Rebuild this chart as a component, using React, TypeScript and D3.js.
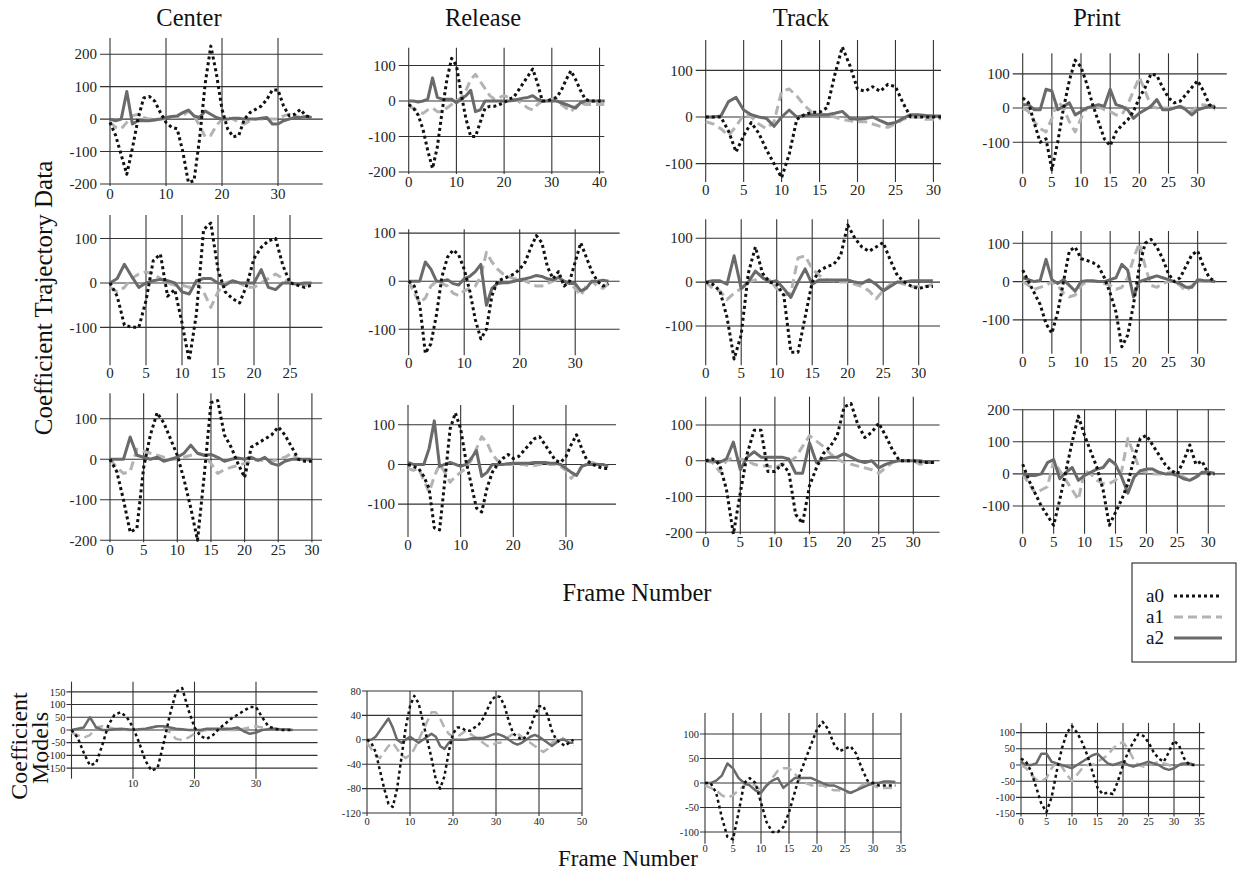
import { useEffect, useRef } from "react"
import * as d3 from "d3"

// ---- column titles / series ----
const columnTitles = ["Center", "Release", "Track", "Print"]
const seriesNames = ["a0", "a1", "a2"]

// ---- Coefficient trajectory data, row 1 ----
const centerT1A0 = [-10, -50, -110, -170, -90, 0, 65, 70, 55, 20, -10, -25, -30, -100, -195, -190, -60, 110, 225, 140, 30, -30, -55, -50, 0, 20, 30, 40, 60, 90, 90, 40, 10, 15, 30, 10, 5]
const centerT1A1 = [-10, -25, -30, -10, 10, 15, 5, 0, 0, 0, 0, 5, 5, 10, 25, 10, -20, -55, -50, -20, 0, 5, 0, -10, -15, -5, 0, 0, 0, 0, 0, 10, 15, 10, 5, 5, 5]
const centerT1A2 = [0, -5, 0, 85, -15, -5, -5, -5, -3, 0, 5, 8, 10, 20, 28, 10, 5, 25, 15, 5, 0, 0, 3, 3, 0, 0, 0, 3, 5, -15, -15, -5, 0, 5, 5, 8, 5]

const releaseT1A0 = [-10, -20, -40, -80, -140, -190, -130, -30, 60, 120, 100, 20, -50, -100, -100, -60, -20, -15, -15, -10, -5, 5, 10, 30, 50, 70, 90, 50, 0, 0, 5, 10, 30, 60, 85, 60, 30, 5, 0, 0, 0, 0]
const releaseT1A1 = [-15, -20, -30, -35, -25, -20, -30, -30, -20, -10, 0, 10, 30, 60, 75, 55, 35, 15, 5, 10, 15, 10, 5, 0, -10, -20, -25, -10, 0, 0, 5, 0, -10, -20, -30, -15, -5, -10, -10, -10, -10, -10]
const releaseT1A2 = [0, 0, -3, 0, 5, 65, 10, 5, 5, 5, -5, 5, 15, 30, -30, -25, 0, 0, 0, 0, 0, 0, 2, 5, 8, 10, 15, 5, 0, 0, 0, 0, -5, -10, -15, -20, -5, 0, 0, 0, 0, 0]

const trackT1A0 = [0, 0, 0, -30, -75, -40, -12, -35, -70, -100, -130, -80, -5, 5, 10, 10, 20, 90, 150, 110, 60, 55, 65, 55, 70, 65, 30, 0, 0, 0, 0, 0]
const trackT1A1 = [-10, -15, -25, -40, -20, 5, 0, -15, -25, -10, 55, 60, 45, 25, 10, 5, 5, 0, -5, -8, -10, -10, -15, -20, -22, -15, -5, 0, 0, -5, -5, -3]
const trackT1A2 = [0, 0, 2, 33, 42, 15, 5, 0, -3, -20, 0, 15, 0, 3, 5, 5, 5, 8, 12, -3, -5, -3, 0, -8, -15, -12, -3, 5, 5, 3, 2, 2]

const printT1A0 = [30, 15, -45, -100, -90, -180, -100, 0, 80, 140, 120, 70, 10, -40, -90, -110, -70, -50, -35, -10, 30, 60, 100, 95, 60, 30, 15, 20, 40, 60, 80, 50, 10, 0]
const printT1A1 = [0, -10, -40, -60, -70, -30, 20, 0, -40, -70, -30, 0, 5, 5, -5, -10, -20, -20, 10, 50, 90, 50, 5, 0, 0, 0, 0, 5, 0, -10, 5, 10, 5, -5]
const printT1A2 = [10, 10, -5, -5, 55, 50, -5, 5, 15, -20, -10, 0, 5, 10, 5, 55, 10, 5, -5, -30, -15, -5, 5, 25, -5, -5, 0, 5, -5, -20, -5, 0, 5, 5]

// ---- row 2 ----
const centerT2A0 = [0, -30, -95, -100, -100, -40, 50, 65, -30, -15, -90, -175, -70, 120, 135, 30, -20, -35, -45, -5, 55, 80, 95, 100, 40, 0, -5, -10, -5]
const centerT2A1 = [-10, -20, -10, 10, 20, 25, 20, 10, 0, -5, -5, -10, 0, -20, -55, -20, 0, 5, 0, -10, -10, 0, 10, 20, 10, 0, 0, -5, -5]
const centerT2A2 = [0, 10, 42, 15, -10, 0, 5, 8, 5, 0, -20, -25, 5, 10, 10, 0, -5, 5, 0, 0, 0, 30, -10, -15, 0, 0, -3, 0, 0]

const releaseT2A0 = [0, -10, -50, -150, -130, -70, 10, 50, 65, 55, 25, -20, -80, -120, -100, -30, 0, 5, 10, 15, 25, 40, 70, 95, 80, 30, 5, 20, -10, 0, 40, 80, 50, 20, 0, -10, -5]
const releaseT2A1 = [0, -25, -45, -35, -10, 0, -5, -10, -25, -30, -20, -15, -10, 10, 60, 40, 25, 15, 10, 5, 5, 0, -5, -10, -10, -5, 0, 5, 0, -5, -15, -30, -10, 0, -10, -15, -5]
const releaseT2A2 = [0, 0, 0, 40, 25, 0, 0, 3, -5, -8, 5, 10, 20, 35, -50, -15, -5, -3, -3, 0, 3, 5, 8, 12, 10, 5, 3, 8, 0, -5, -5, -20, -15, 0, 0, 2, 0]

const trackT2A0 = [0, -5, -20, -80, -175, -120, 20, 80, 20, 0, -5, -30, -160, -160, -80, 0, 25, 35, 40, 60, 130, 100, 80, 70, 80, 90, 50, 15, 0, -10, -15, -10, -10]
const trackT2A1 = [0, -15, -20, -40, -25, -15, 0, 5, 10, 5, -15, -30, -25, 55, 60, 30, 15, 5, 3, 0, 0, -5, -10, -20, -38, -20, -5, 0, -5, -10, -10, -10, -5]
const trackT2A2 = [0, 3, 3, -5, 60, -15, 0, 25, 10, 0, 3, -15, -35, 0, 30, -5, 5, 5, 5, 5, 5, 0, -3, 5, -5, -20, -10, 0, 0, 3, 3, 3, 3]

const printT2A0 = [30, 0, -30, -60, -110, -135, -80, 0, 80, 90, 60, 55, 50, 40, 10, -30, -80, -170, -140, -60, 40, 100, 110, 90, 60, 20, 0, 10, 40, 70, 80, 40, 10, 0]
const printT2A1 = [0, -10, -20, -15, -10, 0, -10, -30, -40, -35, -10, 0, 0, 0, -5, -10, -20, -15, 10, 60, 100, 40, -10, -15, -5, 0, 0, -10, -25, -10, 0, 0, 0, 0]
const printT2A2 = [10, 5, 0, 3, 58, 5, -5, 5, -10, -25, 0, 2, 2, 0, 0, 5, 10, 45, 30, -40, 0, 5, 10, 15, 10, 5, 0, -5, -15, -15, 5, 3, 2, 0]

// ---- row 3 ----
const centerT3A0 = [0, -30, -100, -180, -170, -20, 60, 115, 90, 50, 10, -50, -120, -200, -40, 140, 145, 60, 30, -10, -45, 30, 40, 50, 60, 80, 60, 30, 0, -5, -5]
const centerT3A1 = [0, -20, -35, -30, 25, 20, 15, 10, 5, 0, 0, 5, 10, 15, 10, -10, -35, -25, -20, -15, -10, -5, 0, -5, -5, 0, 5, 15, 0, 0, -5]
const centerT3A2 = [0, 0, 0, 55, 10, 5, 0, 5, -5, 0, 5, 15, 35, 15, 10, 12, 5, -5, 0, 3, 0, 5, -3, 5, -10, -15, -5, 0, 0, 0, 0]

const releaseT3A0 = [0, -5, -10, -30, -60, -160, -165, -40, 90, 130, 90, 10, -50, -110, -120, -60, -20, 0, 15, 25, 15, 20, 35, 50, 65, 70, 50, 30, 10, 5, 20, 50, 75, 40, 10, 0, -5, -10, -10]
const releaseT3A1 = [-10, -15, -10, -40, -70, -30, 0, -20, -45, -30, -20, -10, 10, 40, 70, 55, 25, 10, 5, 0, 0, 0, 0, -3, -3, 0, 3, 0, 0, -5, -15, -35, -20, -5, 0, 5, 0, -5, -5]
const releaseT3A2 = [5, 0, 0, 0, 40, 110, -5, 0, 5, 0, -5, 0, 15, 35, -30, -20, 0, 0, 0, 2, 3, 3, 3, 3, 5, 5, 5, 3, 3, 0, -10, -20, -28, -5, 0, 0, 0, 0, -5]

const trackT3A0 = [0, 5, -10, -80, -205, -90, 20, 85, 85, -30, -30, -10, -30, -150, -175, -70, -20, 20, 40, 70, 150, 160, 100, 65, 80, 105, 70, 30, 0, 0, 0, -3, -5, -5]
const trackT3A1 = [0, -5, -30, 0, 10, 5, 0, -10, -15, -15, -20, -10, -5, 10, 40, 70, 55, 40, 20, 5, -5, -10, -15, -20, -25, -35, -20, -5, 0, 0, 0, -10, -5, -5]
const trackT3A2 = [0, 0, -5, 5, 52, -25, 10, 25, 10, 10, 10, 10, 5, -35, -35, 50, -5, 5, 10, 10, 20, 10, 0, -5, 0, -20, -10, -3, 0, 0, 0, 0, -5, -3]

const printT3A0 = [30, -20, -60, -100, -130, -160, -80, 10, 100, 180, 120, 70, 20, -50, -160, -120, -80, -30, 50, 110, 120, 90, 60, 30, 10, 0, 40, 90, 30, 40, 0, 0]
const printT3A1 = [0, -30, -60, -50, -40, 40, 10, -20, -50, -80, 10, 0, -20, -30, -30, -20, 10, 110, 60, 10, 5, 0, 0, 0, 5, 5, -10, -20, -10, 0, 5, 0]
const printT3A2 = [0, -5, -5, 0, 35, 45, -15, 5, 20, -20, -5, 5, 15, 20, 45, 30, -10, -60, -10, 10, 15, 15, 5, 0, 0, -5, -15, -20, -10, 5, 5, 2]

// ---- Coefficient models ----
const centerMA0 = [0, -30, -90, -140, -130, -60, 20, 60, 70, 50, 10, -50, -120, -160, -150, -50, 60, 150, 165, 80, 10, -25, -35, -20, 5, 25, 45, 60, 75, 90, 90, 50, 15, 5, 0, 0, 0]
const centerMA1 = [-10, -20, -30, -20, 10, 15, 10, 5, 3, 0, 0, 0, 3, 10, 15, 10, -10, -35, -40, -30, -15, -5, 0, 0, 0, 0, 0, 0, 5, 10, 15, 10, 5, 5, 3, 2, 0]
const centerMA2 = [0, 5, 10, 50, 10, 0, 0, 3, 5, 3, 0, 3, 5, 10, 15, 15, 10, 5, 3, 0, 0, 0, 5, 5, 5, 5, 5, 10, -5, -15, -10, 0, 3, 5, 3, 2, 0]

const releaseMA0 = [0, -5, -20, -50, -80, -105, -110, -80, -30, 20, 55, 72, 60, 30, 0, -30, -65, -80, -60, -20, 10, 20, 20, 15, 15, 20, 25, 35, 50, 65, 72, 70, 55, 30, 10, 5, 0, 5, 20, 40, 55, 55, 40, 15, 0, -5, -10, -5, 0]
const releaseMA1 = [-5, -15, -25, -30, -20, -10, -5, -15, -25, -30, -25, -15, 0, 15, 30, 45, 45, 35, 20, 10, 5, 5, 10, 15, 10, 5, 0, -5, -10, -10, -5, -5, 0, 5, 10, 10, 5, 0, -5, -10, -15, -20, -15, -5, 0, 5, 0, -5, -10]
const releaseMA2 = [0, 0, 5, 15, 25, 35, 20, 0, -5, 0, 5, 0, -5, 0, 5, 10, 5, -10, -15, -5, 0, 0, 0, 0, 2, 3, 3, 3, 5, 8, 10, 8, 5, 0, -5, -8, -5, 0, 5, 8, 5, 0, -5, -10, -5, 0, 0, -5, -5]

const trackMA0 = [0, 0, -20, -70, -110, -115, -60, 0, 10, 0, -40, -80, -100, -100, -90, -60, -20, 20, 50, 80, 110, 125, 110, 80, 65, 70, 75, 60, 30, 5, 0, -5, -5, -5, -5]
const trackMA1 = [-5, -10, -15, -25, -30, -25, -15, -5, 0, -5, -15, -5, 10, 25, 30, 30, 20, 5, 0, -5, -5, -5, -10, -15, -15, -20, -20, -15, -5, 0, -5, -10, -10, -10, -10]
const trackMA2 = [0, 0, 5, 15, 40, 30, 10, 0, -5, -15, -20, -5, 5, 10, -10, 0, 10, 10, 10, 10, 5, 0, -5, -5, -10, -15, -20, -15, -10, -5, 0, 0, 3, 3, 2]

const printMA0 = [20, 10, -20, -70, -120, -145, -100, -20, 50, 100, 120, 100, 70, 30, -20, -70, -90, -85, -90, -50, 0, 40, 70, 95, 90, 70, 40, 20, 10, 40, 75, 60, 20, 0, 0]
const printMA1 = [0, -10, -30, -45, -50, -40, -10, 10, -5, -30, -50, -30, -10, 0, 0, 10, 20, 30, 50, 65, 70, 50, 20, 0, -5, 0, 5, 10, 5, 0, -10, 0, 10, 5, 0]
const printMA2 = [10, 0, 0, 5, 35, 35, 10, 5, 0, -5, -10, 0, 10, 20, 30, 35, 20, 5, 0, 5, 10, 0, -5, 0, 5, 10, 5, 0, -10, -15, -10, 0, 5, 5, 0]

// series styles
const seriesStyle = [
  { color: "#111", width: 3, dash: "3 3" },
  { color: "#b3b3b3", width: 3, dash: "9 5" },
  { color: "#6a6a6a", width: 3, dash: null },
]

// panel layout: pixel box + domains (small = bottom "models" row)
const panels = [
  { data: [centerT1A0, centerT1A1, centerT1A2], left: 110, right: 322.8, top: 38, bottom: 184, xMax: 38, y: [-200, 250], xTicks: d3.range(0, 31, 10), yTicks: d3.range(-200, 201, 100), small: false },
  { data: [releaseT1A0, releaseT1A1, releaseT1A2], left: 408.7, right: 604.3, top: 47.7, bottom: 172, xMax: 41, y: [-200, 150], xTicks: d3.range(0, 41, 10), yTicks: d3.range(-200, 101, 100), small: false },
  { data: [trackT1A0, trackT1A1, trackT1A2], left: 705.7, right: 941, top: 40, bottom: 180, xMax: 31, y: [-135, 165], xTicks: d3.range(0, 31, 5), yTicks: [-100, 0, 100], small: false },
  { data: [printT1A0, printT1A1, printT1A2], left: 1022.7, right: 1226.8, top: 53.3, bottom: 171.7, xMax: 35, y: [-186, 160], xTicks: d3.range(0, 31, 5), yTicks: [-100, 0, 100], small: false },

  { data: [centerT2A0, centerT2A1, centerT2A2], left: 110, right: 322.4, top: 215, bottom: 363.3, xMax: 29.5, y: [-181, 153], xTicks: d3.range(0, 26, 5), yTicks: [-100, 0, 100], small: false },
  { data: [releaseT2A0, releaseT2A1, releaseT2A2], left: 408.7, right: 619.6, top: 229.3, bottom: 353.3, xMax: 38, y: [-150, 108], xTicks: d3.range(0, 31, 10), yTicks: [-100, 0, 100], small: false },
  { data: [trackT2A0, trackT2A1, trackT2A2], left: 705.7, right: 940, top: 219.3, bottom: 363.3, xMax: 33, y: [-185, 143], xTicks: d3.range(0, 31, 5), yTicks: [-100, 0, 100], small: false },
  { data: [printT2A0, printT2A1, printT2A2], left: 1022.7, right: 1226.8, top: 231, bottom: 351.7, xMax: 35, y: [-183, 132], xTicks: d3.range(0, 31, 5), yTicks: [-100, 0, 100], small: false },

  { data: [centerT3A0, centerT3A1, centerT3A2], left: 110, right: 322, top: 393.3, bottom: 540.3, xMax: 31.5, y: [-200, 163], xTicks: d3.range(0, 31, 5), yTicks: [-200, -100, 0, 100], small: false },
  { data: [releaseT3A0, releaseT3A1, releaseT3A2], left: 408, right: 616, top: 405, bottom: 535, xMax: 39.5, y: [-178, 150], xTicks: d3.range(0, 31, 10), yTicks: [-100, 0, 100], small: false },
  { data: [trackT3A0, trackT3A1, trackT3A2], left: 705.7, right: 939.6, top: 396.7, bottom: 532.3, xMax: 33.8, y: [-200, 179], xTicks: d3.range(0, 31, 5), yTicks: [-200, -100, 0, 100], small: false },
  { data: [printT3A0, printT3A1, printT3A2], left: 1022.7, right: 1225, top: 409.7, bottom: 531.7, xMax: 32.7, y: [-180, 200], xTicks: d3.range(0, 31, 5), yTicks: [-100, 0, 100, 200], small: false },

  { data: [centerMA0, centerMA1, centerMA2], left: 71.5, right: 317.5, top: 681.7, bottom: 775.7, xMax: 40, y: [-180, 190], xTicks: [10, 20, 30], yTicks: d3.range(-150, 151, 50), small: true },
  { data: [releaseMA0, releaseMA1, releaseMA2], left: 367, right: 582, top: 691, bottom: 813, xMax: 50, y: [-120, 80], xTicks: d3.range(0, 51, 10), yTicks: d3.range(-120, 81, 40), small: true },
  { data: [trackMA0, trackMA1, trackMA2], left: 705, right: 901, top: 713, bottom: 840.8, xMax: 35, y: [-118, 143], xTicks: d3.range(0, 36, 5), yTicks: d3.range(-100, 101, 50), small: true },
  { data: [printMA0, printMA1, printMA2], left: 1021, right: 1204.6, top: 722.9, bottom: 813.6, xMax: 36, y: [-150, 130], xTicks: d3.range(0, 36, 5), yTicks: d3.range(-150, 101, 50), small: true },
]

const titleX = [189, 483, 801, 1097]

export default function App() {
  const svgRef = useRef(null)

  useEffect(() => {
    if (!svgRef.current) return
    const svg = d3.select(svgRef.current)
    svg.selectAll("*").remove()
    const font = "'Liberation Serif', 'Times New Roman', serif"

    // column titles
    columnTitles.forEach((t, i) => {
      svg.append("text").attr("x", titleX[i]).attr("y", 26).attr("text-anchor", "middle")
        .attr("font-family", font).attr("font-size", 24.5).attr("fill", "#111").text(t)
    })

    panels.forEach((p) => {
      const x = d3.scaleLinear().domain([0, p.xMax]).range([p.left, p.right])
      const y = d3.scaleLinear().domain(p.y).range([p.bottom, p.top])
      const g = svg.append("g")
      const tickLen = p.small ? 5 : 10
      const fs = p.small ? 10.5 : 15

      // horizontal grid
      g.selectAll(".hg").data(p.yTicks).enter().append("line")
        .attr("x1", p.left - tickLen).attr("x2", p.right)
        .attr("y1", (d) => y(d)).attr("y2", (d) => y(d))
        .attr("stroke", "#333").attr("stroke-width", 1.1)

      // vertical grid
      const vTicks = p.small && p.xTicks[0] !== 0 ? [0, ...p.xTicks] : p.xTicks
      g.selectAll(".vg").data(vTicks).enter().append("line")
        .attr("x1", (d) => x(d)).attr("x2", (d) => x(d))
        .attr("y1", p.top).attr("y2", p.bottom + (p.small ? 3 : 2))
        .attr("stroke", "#333").attr("stroke-width", 1.1)

      // tick labels
      g.selectAll(".yl").data(p.yTicks).enter().append("text")
        .attr("x", p.left - (p.small ? 6 : 13)).attr("y", (d) => y(d)).attr("dy", "0.35em")
        .attr("text-anchor", "end").attr("font-family", font).attr("font-size", fs).attr("fill", "#222")
        .text((d) => d)
      g.selectAll(".xl").data(p.xTicks).enter().append("text")
        .attr("x", (d) => x(d)).attr("y", p.bottom + (p.small ? 11.5 : 15))
        .attr("text-anchor", "middle").attr("font-family", font).attr("font-size", fs).attr("fill", "#222")
        .text((d) => d)

      // series: a1, a2 below, a0 dotted on top
      ;[1, 2, 0].forEach((si) => {
        const st = seriesStyle[si]
        const line = d3.line<number>().x((_, i) => x(i)).y((d) => y(d))
        g.append("path").datum(p.data[si]).attr("d", line)
          .attr("fill", "none").attr("stroke", st.color)
          .attr("stroke-width", p.small ? st.width - 0.5 : st.width)
          .attr("stroke-dasharray", st.dash)
          .attr("stroke-linejoin", "round")
      })
    })

    // axis titles
    svg.append("text").attr("transform", "translate(52,298) rotate(-90)").attr("text-anchor", "middle")
      .attr("font-family", font).attr("font-size", 25).attr("fill", "#111").text("Coefficient Trajectory Data")
    svg.append("text").attr("transform", "translate(27,746) rotate(-90)").attr("text-anchor", "middle")
      .attr("font-family", font).attr("font-size", 24).attr("fill", "#111").text("Coefficient")
    svg.append("text").attr("transform", "translate(48,748) rotate(-90)").attr("text-anchor", "middle")
      .attr("font-family", font).attr("font-size", 24).attr("fill", "#111").text("Models")
    svg.append("text").attr("x", 637).attr("y", 601).attr("text-anchor", "middle")
      .attr("font-family", font).attr("font-size", 24.5).attr("fill", "#111").text("Frame Number")
    svg.append("text").attr("x", 628).attr("y", 866).attr("text-anchor", "middle")
      .attr("font-family", font).attr("font-size", 23).attr("fill", "#111").text("Frame Number")

    // legend
    const legend = svg.append("g").attr("transform", "translate(1132,563)")
    legend.append("rect").attr("width", 104).attr("height", 99).attr("fill", "#fff").attr("stroke", "#111")
    seriesNames.forEach((n, i) => {
      const ly = 33 + i * 21
      legend.append("text").attr("x", 14).attr("y", ly + 6).attr("font-family", font)
        .attr("font-size", 19).attr("fill", "#111").text(n)
      legend.append("line").attr("x1", 42).attr("x2", 90).attr("y1", ly).attr("y2", ly)
        .attr("stroke", seriesStyle[i].color).attr("stroke-width", seriesStyle[i].width)
        .attr("stroke-dasharray", seriesStyle[i].dash)
    })

    svg.attr("width", 1238).attr("height", 874).attr("viewBox", [0, 0, 1238, 874])
  }, [])

  return (
    <div style={{ position: "absolute", left: 0, top: 0, background: "#fff" }}>
      <svg ref={svgRef} style={{ display: "block" }}></svg>
    </div>
  )
}
